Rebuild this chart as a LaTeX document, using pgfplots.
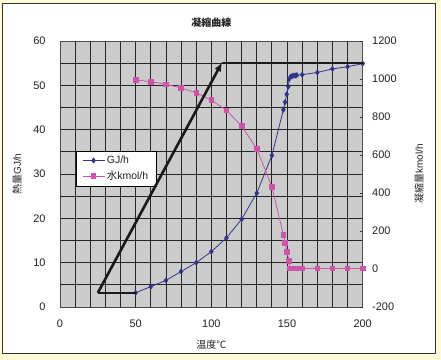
\documentclass[border=0pt]{standalone}
\usepackage{fontspec}
\setmainfont{Liberation Sans}
\newfontfamily\jp{Noto Sans CJK JP}
\usepackage{pgfplots}
\pgfplotsset{compat=1.18}
\usetikzlibrary{arrows.meta}
\definecolor{bgyellow}{RGB}{255,251,214}
\definecolor{plotgray}{RGB}{204,204,204}
\definecolor{gjblue}{RGB}{51,51,136}
\definecolor{wpink}{RGB}{204,85,170}
\definecolor{txt}{RGB}{35,35,35}
\pgfplotsset{
  base/.style={
    at={(60bp,53bp)}, anchor=south west, scale only axis,
    width=302.7bp, height=266bp,
    xmin=0, xmax=200,
    /pgf/number format/assume math mode=true,
    /pgf/number format/1000 sep={},
    tick label style={font=\fontsize{11}{13}\selectfont, text=txt},
    label style={font=\fontsize{10}{12}\selectfont, text=txt},
  }
}
\begin{document}
\begin{tikzpicture}
\fill[bgyellow] (0,0) rectangle (441bp,360bp);
\useasboundingbox (0,0) rectangle (441bp,360bp);
\draw[fill=white, draw=black!80, line width=0.8bp] (2.5bp,6.5bp) rectangle (435.5bp,357bp);
% left axis with grid and GJ/h
\begin{axis}[base,
  ymin=0, ymax=60,
  axis background/.style={fill=plotgray},
  axis line style={draw=black!70, line width=0.8bp},
  xtick={0,50,100,150,200},
  ytick={0,10,20,30,40,50,60},
  minor x tick num=4, minor y tick num=1,
  grid=both,
  major grid style={draw=black!85, line width=0.8bp},
  minor grid style={draw=black!85, line width=0.8bp},
  major tick length=0pt, minor tick length=0pt,
  xticklabel style={yshift=-9bp},
  yticklabel style={xshift=-11bp},
  title={\jp\bfseries 凝縮曲線},
  title style={font=\fontsize{10}{12}\selectfont, text=txt, yshift=4bp},
  xlabel={\jp 温度℃},
  xlabel style={at={(axis description cs:0.5,-0.143)}, anchor=center},
  ylabel={\jp 熱量\rmfamily GJ/h},
  ylabel style={at={(axis description cs:-0.142,0.5)}, anchor=center, rotate=0},
]
\addplot[gjblue, line width=0.8bp, mark=diamond*, mark size=2.4bp, mark options={fill=gjblue, draw=gjblue}] coordinates {
(50,3.2) (60,4.6) (70,6.0) (80,8.0) (90,10.0) (100,12.5) (110,15.6) (120,19.8) (130,25.7) (140,34.2)
(147.6,44.5) (148.7,46.2) (149.8,48.0) (150.9,49.7) (151.4,51.4) (152.5,52.0) (153.5,52.1) (154.5,52.2)
(155.5,52.2) (156.5,52.3) (160,52.4) (170,52.9) (180,53.7) (190,54.2) (200,54.9)
};
\end{axis}
% right axis with water
\begin{axis}[base,
  ymin=-200, ymax=1200,
  hide x axis,
  axis y line*=right,
  axis line style={draw=black!70, line width=0.8bp},
  ytick={-200,0,200,400,600,800,1000,1200},
  tick align=inside, major tick length=3bp,
  tick style={draw=black!80, line width=0.8bp},
  yticklabel style={xshift=6bp},
  ylabel={\jp 凝縮量\rmfamily kmol/h},
  ylabel style={at={(axis description cs:1.186,0.5)}, anchor=center},
  legend style={at={(0.052,0.588)}, anchor=north west, draw=black, line width=0.8bp,
    fill=white, font=\fontsize{10.5}{12}\selectfont, text=txt, row sep=2bp,
    inner xsep=6bp, inner ysep=3bp},
  legend cell align=left,
  legend image code/.code={\draw[mark repeat=2, mark phase=2] plot coordinates {(0bp,0bp) (11bp,0bp) (22bp,0bp)};},
]
\addlegendimage{gjblue, line width=0.8bp, mark=diamond*, mark size=2.4bp, mark options={fill=gjblue, draw=gjblue}}
\addlegendentry{GJ/h}
\addplot[wpink, line width=0.8bp, mark=square*, mark size=2.3bp, mark options={fill=wpink, draw=wpink}] coordinates {
(50,995) (60,986) (70,972) (80,953) (90,928) (100,889) (110,835) (120,753) (130,633) (140,433)
(147.6,179) (148.7,138) (149.8,91) (151.4,44) (152,3) (153,3) (154,3) (155,3) (156,3) (158,3) (160,3)
(170,3) (180,3) (190,3) (200,3)
};
\addlegendentry{{\jp 水}kmol/h}
\end{axis}
% annotation path
\begin{axis}[base, ymin=0, ymax=60, hide axis, clip=false]
\addplot[black!90, line width=2.6bp] coordinates {(50,3.2) (25,3.2)};
\addplot[black!90, line width=2.6bp, -{Latex[length=9bp,width=7bp]}, shorten >=-1bp] coordinates {(25,3.2) (106.8,55)};
\addplot[black!90, line width=2.6bp] coordinates {(106.8,55) (200,55)};
\end{axis}
\end{tikzpicture}
\end{document}
